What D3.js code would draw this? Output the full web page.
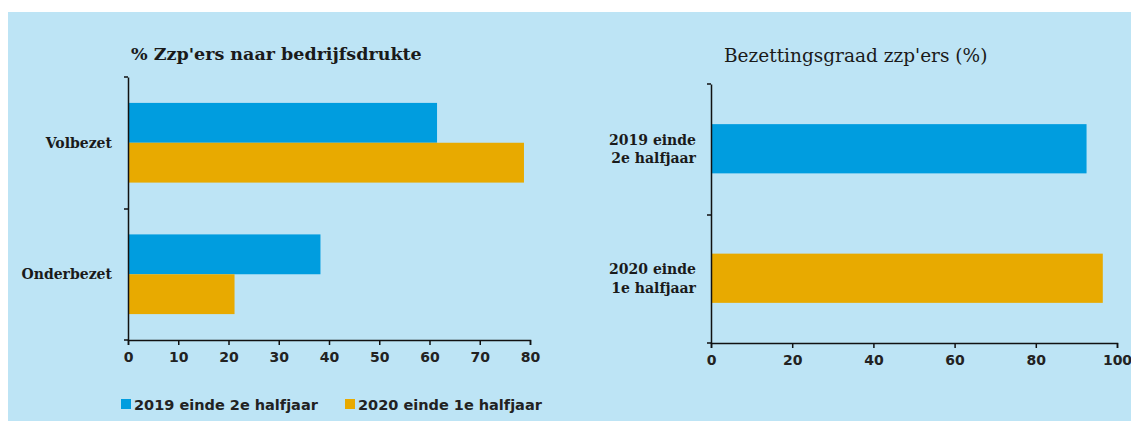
<!DOCTYPE html>
<html>
  <head>
    <meta charset="utf-8" />
    <title>Zzp'ers</title>
    <style>
      body { margin: 0; background: #fff; }
      .title, .cat { font-family: 'DejaVu Serif', serif; fill: #1a1a1a; }
      .tick text, .legend text { font-family: 'DejaVu Sans', sans-serif; font-weight: bold; fill: #222; }
    </style>
    <script src="https://d3js.org/d3.v7.min.js"></script>
  </head>
  <body>
    <div id="chart"></div>
    <script>
      // left chart
      const categories = ["Volbezet", "Onderbezet"];
      const seriesNames = ["2019 einde 2e halfjaar", "2020 einde 1e halfjaar"];
      const values2019 = [61.5, 38.3];
      const values2020 = [78.8, 21.2];
      const leftTicks = [0, 10, 20, 30, 40, 50, 60, 70, 80];
      // right chart
      const periods = [["2019 einde", "2e halfjaar"], ["2020 einde", "1e halfjaar"]];
      const occupancy = [92.5, 96.5];
      const rightTicks = [0, 20, 40, 60, 80, 100];

      const colors = ["#009ddf", "#e8aa00"];

      const svg = d3.select("#chart").append("svg")
        .attr("width", 1131).attr("height", 421);

      svg.append("rect").attr("x", 8).attr("y", 12)
        .attr("width", 1123).attr("height", 409).attr("fill", "#bde4f5");

      // ---------- left chart ----------
      const x1 = d3.scaleLinear().domain([0, 80]).range([128, 530]);
      const y1 = d3.scaleBand().domain(categories).range([77, 340]).padding(0);
      const ySub = d3.scaleBand().domain(seriesNames).range([0, y1.bandwidth()]).paddingOuter(0.65).paddingInner(0);

      const left = svg.append("g");
      const rows = categories.map((c, i) => ({ cat: c, vals: [values2019[i], values2020[i]] }));

      left.selectAll("g.row").data(rows).enter().append("g")
        .attr("class", "row")
        .attr("transform", d => `translate(0,${y1(d.cat)})`)
        .selectAll("rect").data(d => d.vals.map((v, j) => ({ v, s: seriesNames[j], j })))
        .enter().append("rect")
        .attr("x", x1(0))
        .attr("y", d => ySub(d.s))
        .attr("width", d => x1(d.v) - x1(0))
        .attr("height", ySub.bandwidth())
        .attr("fill", d => colors[d.j]);

      left.append("g")
        .attr("transform", `translate(0,340)`)
        .call(d3.axisBottom(x1).tickValues(leftTicks).tickSize(5).tickSizeOuter(5).tickPadding(7));
      left.append("g")
        .attr("transform", `translate(128,0)`)
        .call(d3.axisLeft(y1).tickSize(0).tickSizeOuter(0).tickFormat(""));
      // category boundary ticks
      left.selectAll("line.bt").data([77, 209, 340]).enter().append("line")
        .attr("x1", 124).attr("x2", 128).attr("y1", d => d).attr("y2", d => d)
        .attr("stroke", "#111").attr("stroke-width", 1.5);

      left.selectAll("text.cat").data(categories).enter().append("text")
        .attr("class", "cat")
        .attr("x", 112)
        .attr("y", d => y1(d) + y1.bandwidth() / 2)
        .attr("dy", "0.35em")
        .attr("text-anchor", "end")
        .attr("font-size", 14).attr("font-weight", "bold")
        .text(d => d);

      left.append("text").attr("class", "title")
        .attr("x", 131).attr("y", 60)
        .attr("font-size", 17.5).attr("font-weight", "bold")
        .text("% Zzp'ers naar bedrijfsdrukte");

      // legend
      const legend = svg.append("g").attr("class", "legend");
      const legX = [121, 345];
      seriesNames.forEach((s, i) => {
        legend.append("rect").attr("x", legX[i]).attr("y", 399)
          .attr("width", 10).attr("height", 10).attr("fill", colors[i]);
        legend.append("text").attr("x", legX[i] + 13).attr("y", 410)
          .attr("font-size", 14.5).text(s);
      });

      // ---------- right chart ----------
      const x2 = d3.scaleLinear().domain([0, 100]).range([711, 1117]);
      const periodKeys = periods.map(p => p.join(" "));
      const y2 = d3.scaleBand().domain(periodKeys).range([84, 343]).padding(0);
      const barFrac = 0.38;

      const right = svg.append("g");
      right.selectAll("rect.bar").data(occupancy).enter().append("rect")
        .attr("class", "bar")
        .attr("x", x2(0))
        .attr("y", (d, i) => y2(periodKeys[i]) + y2.bandwidth() * (1 - barFrac) / 2)
        .attr("width", d => x2(d) - x2(0))
        .attr("height", y2.bandwidth() * barFrac)
        .attr("fill", (d, i) => colors[i]);

      right.append("g")
        .attr("transform", `translate(0,343)`)
        .call(d3.axisBottom(x2).tickValues(rightTicks).tickSize(5).tickSizeOuter(5).tickPadding(7));
      right.append("g")
        .attr("transform", `translate(711,0)`)
        .call(d3.axisLeft(y2).tickSize(0).tickSizeOuter(0).tickFormat(""));
      right.selectAll("line.bt").data([84, 215, 343]).enter().append("line")
        .attr("x1", 707).attr("x2", 711).attr("y1", d => d).attr("y2", d => d)
        .attr("stroke", "#111").attr("stroke-width", 1.5);

      right.selectAll("text.cat").data(periods).enter().append("text")
        .attr("class", "cat")
        .attr("text-anchor", "end")
        .attr("font-size", 14).attr("font-weight", "bold")
        .attr("y", (d, i) => y2(periodKeys[i]) + y2.bandwidth() / 2)
        .each(function (d) {
          const t = d3.select(this);
          t.append("tspan").attr("x", 696).attr("dy", "-0.3em").text(d[0]);
          t.append("tspan").attr("x", 696).attr("dy", "1.35em").text(d[1]);
        });

      right.append("text").attr("class", "title")
        .attr("x", 724).attr("y", 62)
        .attr("font-size", 18.5)
        .text("Bezettingsgraad zzp'ers (%)");

      svg.selectAll(".domain").attr("stroke", "#111").attr("stroke-width", 1.5);
      svg.selectAll(".tick line").attr("stroke", "#111").attr("stroke-width", 1.5);
      svg.selectAll(".tick text").attr("font-size", 14).attr("fill", "#222");
    </script>
  </body>
</html>
